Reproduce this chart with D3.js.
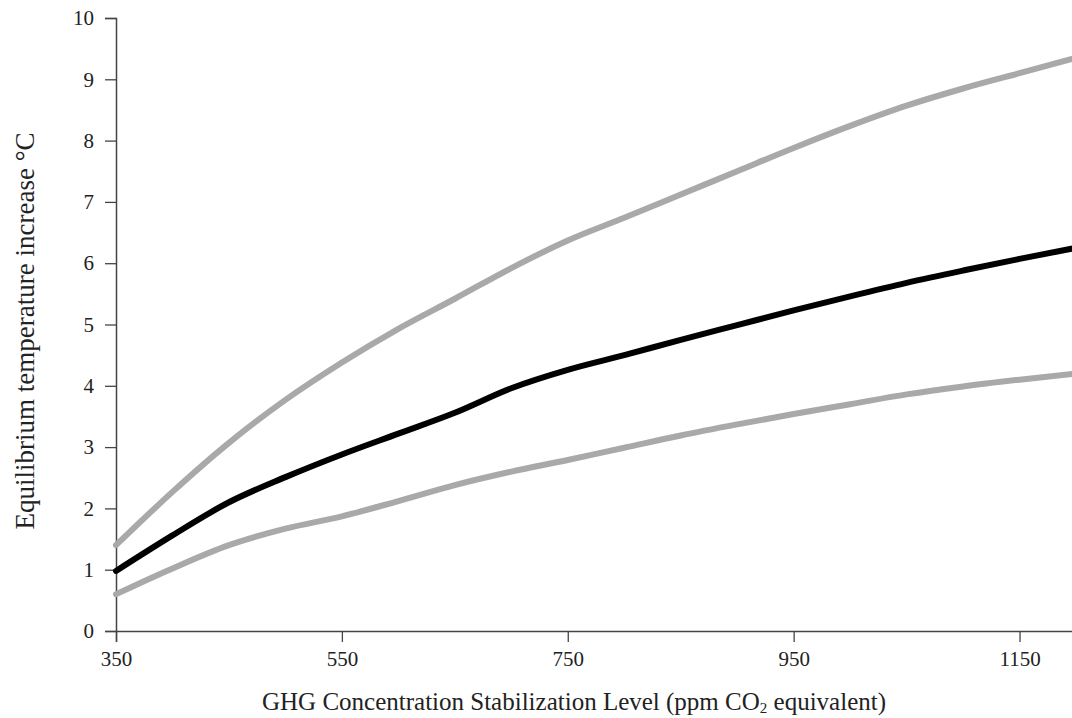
<!DOCTYPE html>
<html>
<head>
<meta charset="utf-8">
<script src="https://cdn.jsdelivr.net/npm/d3@7"></script>
<style>
  body { margin: 0; background: #fff; }
  text { font-family: "Liberation Serif", "Times New Roman", serif; fill: #222; }
</style>
</head>
<body>
<svg width="1072" height="718"></svg>
<script>
// stabilization levels (ppm CO2 eq)
let ppm = [350, 400, 450, 500, 550, 600, 650, 700, 750, 800, 850, 900, 950, 1000, 1050, 1100, 1150, 1200];

// equilibrium warming, upper / central / lower estimate
let upperTemp = [1.40, 2.27, 3.07, 3.77, 4.38, 4.93, 5.42, 5.92, 6.37, 6.74, 7.12, 7.50, 7.88, 8.24, 8.57, 8.85, 9.10, 9.35];
let centralTemp = [0.98, 1.56, 2.10, 2.51, 2.88, 3.22, 3.56, 3.96, 4.26, 4.50, 4.75, 4.99, 5.23, 5.46, 5.68, 5.88, 6.07, 6.25];
let lowerTemp = [0.60, 1.02, 1.40, 1.67, 1.87, 2.12, 2.38, 2.60, 2.79, 2.99, 3.19, 3.37, 3.54, 3.70, 3.86, 3.99, 4.10, 4.20];

let xTicks = [350, 550, 750, 950, 1150];
let yTicks = [0, 1, 2, 3, 4, 5, 6, 7, 8, 9, 10];

let svg = d3.select('svg');

let padding = {t: 18, l: 116, b: 87};
let chartHeight = 718 - padding.t - padding.b;

let xScale = d3.scaleLinear().domain([350, 1200]).range([padding.l, 1076]);
let yScale = d3.scaleLinear().domain([0, 10]).range([padding.t + chartHeight, padding.t]);

// axes
let xAxis = svg.append('g')
    .attr('transform', 'translate(0,' + yScale(0) + ')')
    .call(d3.axisBottom(xScale).tickValues(xTicks).tickSize(11).tickPadding(9).tickFormat(d3.format('d')));

let yAxis = svg.append('g')
    .attr('transform', 'translate(' + xScale(350) + ',0)')
    .call(d3.axisLeft(yScale).tickValues(yTicks).tickSize(11).tickPadding(11).tickFormat(d3.format('d')));

[xAxis, yAxis].forEach(function(a) {
    a.select('.domain').attr('stroke', '#444').attr('stroke-width', 1.5);
    a.selectAll('.tick line').attr('stroke', '#444').attr('stroke-width', 1.3);
    a.selectAll('.tick text')
        .style('font-family', '"Liberation Serif", serif')
        .style('font-size', '21px')
        .attr('fill', '#222');
});

// lines
let line = d3.line()
    .x((d, i) => xScale(ppm[i]))
    .y(d => yScale(d))
    .curve(d3.curveMonotoneX);

let series = [
    {vals: upperTemp, color: '#a9a9a9'},
    {vals: lowerTemp, color: '#a9a9a9'},
    {vals: centralTemp, color: '#000'}
];

series.forEach(function(s) {
    svg.append('path')
        .datum(s.vals)
        .attr('d', line)
        .attr('fill', 'none')
        .attr('stroke', s.color)
        .attr('stroke-width', 6)
        .attr('stroke-linecap', 'round')
        .attr('stroke-linejoin', 'round');
});

// axis titles
let xTitle = svg.append('text')
    .attr('x', 574)
    .attr('y', 710)
    .attr('text-anchor', 'middle')
    .style('font-size', '25px');
xTitle.append('tspan').text('GHG Concentration Stabilization Level (ppm CO');
xTitle.append('tspan').attr('dy', 3).style('font-size', '15px').text('2');
xTitle.append('tspan').attr('dy', -3).text(' equivalent)');

svg.append('text')
    .attr('transform', 'translate(34,' + 331 + ') rotate(-90)')
    .attr('text-anchor', 'middle')
    .style('font-size', '27px')
    .text('Equilibrium temperature increase °C');
</script>
</body>
</html>
